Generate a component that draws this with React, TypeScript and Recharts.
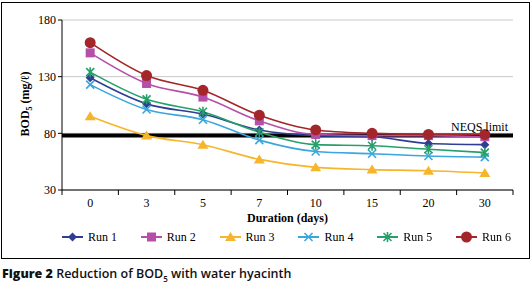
import {
  LineChart,
  Line,
  XAxis,
  YAxis,
  CartesianGrid,
  ReferenceLine
} from 'recharts';

const days = ['0', '3', '5', '7', '10', '15', '20', '30'];
const run1 = [129, 106, 97, 83, 78, 77, 71, 70];
const run2 = [151, 124, 112, 91, 79, 78, 78, 77];
const run3 = [95, 78, 70, 57, 50, 48, 47, 45];
const run4 = [123, 101, 92, 74, 64, 62, 60, 59];
const run5 = [134, 110, 99, 81, 70, 69, 66, 63];
const run6 = [160, 131, 118, 96, 83, 80, 79, 79];
const yTicks = [30, 80, 130, 180];
const neqsLimit = 78;

const series = [
  { key: 'run1', name: 'Run 1', values: run1, color: '#2E3F93', shape: 'diamond' },
  { key: 'run2', name: 'Run 2', values: run2, color: '#B54FA8', shape: 'square' },
  { key: 'run3', name: 'Run 3', values: run3, color: '#F7B52C', shape: 'triangle' },
  { key: 'run4', name: 'Run 4', values: run4, color: '#3AA6DC', shape: 'cross' },
  { key: 'run5', name: 'Run 5', values: run5, color: '#26A06A', shape: 'star' },
  { key: 'run6', name: 'Run 6', values: run6, color: '#A3262A', shape: 'circle' }
];

const data = days.map((day, i) => {
  const row: Record<string, string | number> = { day };
  series.forEach((s) => (row[s.key] = s.values[i]));
  return row;
});

const W = 532;
const H = 284;
const PLOT_LEFT = 62;
const PLOT_RIGHT = 513;
const PLOT_TOP = 20;
const AXIS_Y = 190;
const BAND = (PLOT_RIGHT - PLOT_LEFT) / days.length;
const SERIF = '"Liberation Serif", "Times New Roman", serif';

function marker(shape: string, cx: number, cy: number, color: string) {
  switch (shape) {
    case 'diamond':
      return <path d={`M${cx},${cy - 4.5}L${cx + 4.5},${cy}L${cx},${cy + 4.5}L${cx - 4.5},${cy}Z`} fill={color} />;
    case 'square':
      return <rect x={cx - 4.5} y={cy - 4.5} width={9} height={9} fill={color} />;
    case 'triangle':
      return <path d={`M${cx},${cy - 5}L${cx + 5.5},${cy + 4}L${cx - 5.5},${cy + 4}Z`} fill={color} />;
    case 'cross':
      return (
        <path d={`M${cx - 4},${cy - 4}L${cx + 4},${cy + 4}M${cx - 4},${cy + 4}L${cx + 4},${cy - 4}`} stroke={color} strokeWidth={1.6} />
      );
    case 'star':
      return (
        <path
          d={`M${cx - 4},${cy - 4}L${cx + 4},${cy + 4}M${cx - 4},${cy + 4}L${cx + 4},${cy - 4}M${cx},${cy - 5}L${cx},${cy + 5}`}
          stroke={color}
          strokeWidth={1.6}
        />
      );
    default:
      return <circle cx={cx} cy={cy} r={5.5} fill={color} />;
  }
}

function makeDot(shape: string, color: string) {
  return (props: any) => {
    const { cx, cy, index } = props;
    if (cx == null || cy == null) return <g key={index} />;
    return <g key={index}>{marker(shape, cx, cy, color)}</g>;
  };
}

function DayTick(props: any) {
  const { x, y, payload, index } = props;
  const last = index === days.length - 1;
  return (
    <g>
      <line x1={x - BAND / 2} x2={x - BAND / 2} y1={AXIS_Y} y2={AXIS_Y + 5} stroke="#000" />
      {last && <line x1={x + BAND / 2} x2={x + BAND / 2} y1={AXIS_Y} y2={AXIS_Y + 5} stroke="#000" />}
      <text x={x} y={y} dy="0.71em" textAnchor="middle" fontSize={12} fill="#000" fontFamily={SERIF}>
        {payload.value}
      </text>
    </g>
  );
}

function YLabel() {
  return (
    <text
      transform="translate(29,104) rotate(-90)"
      textAnchor="middle"
      fontSize={12}
      fontWeight="bold"
      fontFamily={SERIF}
      fill="#000"
    >
      BOD
      <tspan fontSize={8} dy={3}>5</tspan>
      <tspan dy={-3}> (mg/ℓ)</tspan>
    </text>
  );
}

export default function App() {
  return (
    <div style={{ position: 'fixed', left: 0, top: 0, width: W, height: H, background: '#fff' }}>
      <div
        style={{
          position: 'absolute',
          left: 1,
          top: 2,
          width: 529,
          height: 257,
          border: '1.5px solid #000',
          boxSizing: 'border-box'
        }}
      />
      <div style={{ position: 'absolute', left: 0, top: 0 }}>
        <LineChart
          width={W}
          height={H}
          data={data}
          margin={{ top: PLOT_TOP, right: W - PLOT_RIGHT, left: PLOT_LEFT - 45, bottom: H - AXIS_Y - 30 }}
          style={{ fontFamily: SERIF }}
        >
          <CartesianGrid vertical={false} stroke="#c8c8c8" />
          <XAxis
            dataKey="day"
            type="category"
            height={30}
            padding={{ left: BAND / 2, right: BAND / 2 }}
            tickLine={false}
            tickSize={0}
            tickMargin={8}
            axisLine={{ stroke: '#000' }}
            tick={<DayTick />}
            interval={0}
            label={{
              value: 'Duration (days)',
              position: 'insideBottom',
              offset: -2,
              fill: '#000',
              fontSize: 12,
              fontWeight: 'bold',
              fontFamily: SERIF
            }}
          />
          <XAxis
            xAxisId="top"
            dataKey="day"
            orientation="top"
            height={0}
            tick={false}
            tickLine={false}
            axisLine={{ stroke: '#000' }}
          />
          <YAxis
            domain={[30, 180]}
            ticks={yTicks}
            interval={0}
            width={45}
            tickSize={4}
            tickLine={{ stroke: '#000' }}
            axisLine={{ stroke: '#000' }}
            tick={{ fill: '#000', fontSize: 12, fontFamily: SERIF }}
            label={{ content: () => <YLabel /> }}
          />
          <YAxis
            yAxisId="right"
            orientation="right"
            width={0}
            tick={false}
            tickLine={false}
            axisLine={{ stroke: '#000' }}
          />
          <ReferenceLine
            y={neqsLimit}
            stroke="#000"
            strokeWidth={4}
            label={{
              value: 'NEQS limit',
              position: 'insideBottomRight',
              offset: 5,
              fill: '#000',
              fontSize: 12,
              fontFamily: SERIF
            }}
          />
          {series.map((s) => (
            <Line
              key={s.key}
              type="monotone"
              dataKey={s.key}
              name={s.name}
              stroke={s.color}
              strokeWidth={1.6}
              dot={makeDot(s.shape, s.color)}
              activeDot={false}
              isAnimationActive={false}
            />
          ))}
        </LineChart>
      </div>
      <div
        style={{
          position: 'absolute',
          left: 62,
          top: 229,
          display: 'flex',
          fontFamily: SERIF,
          fontSize: 12,
          lineHeight: '16px'
        }}
      >
        {series.map((s) => (
          <div key={s.key} style={{ width: 78.8, display: 'flex', alignItems: 'center' }}>
            <svg width={26} height={16}>
              <line x1={0} x2={21} y1={8} y2={8} stroke={s.color} strokeWidth={2} />
              {marker(s.shape, 10.5, 8, s.color)}
            </svg>
            <span>{s.name}</span>
          </div>
        ))}
      </div>
      <div
        style={{
          position: 'absolute',
          left: 2,
          top: 265,
          fontFamily: '"Open Sans", sans-serif',
          fontSize: 12.5,
          fontWeight: 600,
          color: '#111',
          whiteSpace: 'nowrap'
        }}
      >
        <span style={{ fontWeight: 800 }}>Figure 2</span> Reduction of BOD
        <sub style={{ fontSize: 8 }}>5</sub> with water hyacinth
      </div>
    </div>
  );
}
